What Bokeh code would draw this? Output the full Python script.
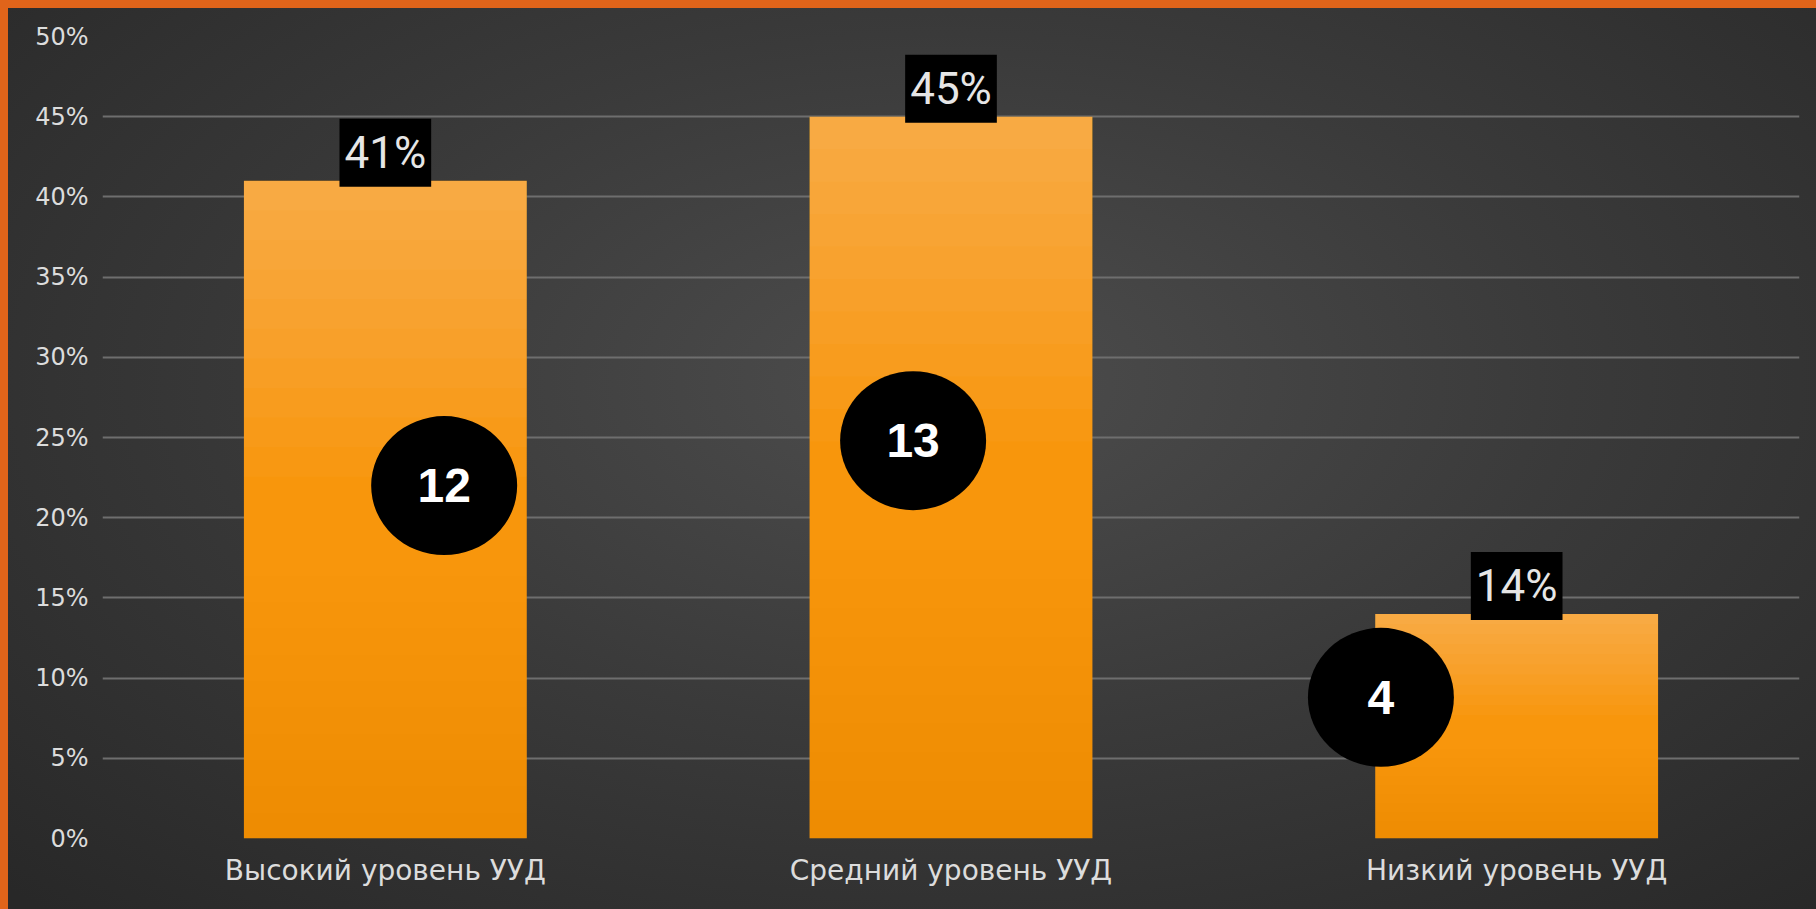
from bokeh.plotting import figure
from bokeh.models import Range1d, FixedTicker, Label, FactorRange
from bokeh.core.properties import value
from bokeh.embed import file_html
from bokeh.resources import INLINE

# ---- data ----
categories = ["Высокий уровень УУД", "Средний уровень УУД", "Низкий уровень УУД"]
percents = [41, 45, 14]
counts = ["12", "13", "4"]
y_ticks = [0, 5, 10, 15, 20, 25, 30, 35, 40, 45, 50]
y_tick_labels = ["0%", "5%", "10%", "15%", "20%", "25%", "30%", "35%", "40%", "45%", "50%"]

# badge (black circle) placement, in category units / percent units
badge_x_shift = [0.104, -0.067, -0.24]
badge_y = [22.0, 24.8, 8.8]

p = figure(
    width=1816, height=909,
    x_range=FactorRange(factors=categories),
    y_range=Range1d(0, 50),
    output_backend="svg", toolbar_location=None,
    min_border_left=102, min_border_right=17, min_border_top=36, min_border_bottom=71,
)
p.background_fill_alpha = 0
p.border_fill_alpha = 0
p.outline_line_color = None
p.styles = {
    "background": "radial-gradient(ellipse 72% 80% at 52% 42%, #4d4d4d 0%, #3a3a3a 48%, #282828 100%)",
    "box-shadow": "inset 8px 8px 0 0 #E0641A",
}

# grid
p.xgrid.grid_line_color = None
p.ygrid.ticker = FixedTicker(ticks=y_ticks[1:])
p.ygrid.grid_line_color = "#6e6e6e"
p.ygrid.grid_line_width = 2

# axes
p.yaxis.ticker = FixedTicker(ticks=y_ticks)
p.yaxis.major_label_overrides = {t: l for t, l in zip(y_ticks, y_tick_labels)}
for ax in (p.xaxis[0], p.yaxis[0]):
    ax.axis_line_color = None
    ax.major_tick_line_color = None
    ax.minor_tick_line_color = None
    ax.major_tick_out = 0
    ax.major_tick_in = 0
    ax.major_label_text_color = "#dcdcdc"
    ax.major_label_text_font = "DejaVu Sans"
p.yaxis.major_label_text_font_size = "24px"
p.yaxis.major_label_standoff = 14
p.xaxis.major_label_text_font_size = "28px"
p.xaxis.major_label_standoff = 15

# bars
p.vbar(x=categories, top=percents, width=0.5, fill_color="#F8960C", line_color=None)
N = 10
for k in range(N):
    frac_top = 0.45 * (k + 1) / N
    p.vbar(x=categories, top=percents, bottom=[v * (1 - frac_top) for v in percents],
           width=0.5, fill_color="white", fill_alpha=0.028, line_color=None)
    frac_bot = 0.4 * (k + 1) / N
    p.vbar(x=categories, top=[v * frac_bot for v in percents], bottom=0,
           width=0.5, fill_color="black", fill_alpha=0.004, line_color=None)

# value labels in black boxes
for i, v in enumerate(percents):
    p.add_layout(Label(
        x=i + 0.5, y=v, text=f"{v}%", y_offset=28,
        text_align="center", text_baseline="middle",
        text_font="Roboto", text_font_size="44px", text_color="#e6e6e6",
        background_fill_color="black", background_fill_alpha=1.0,
        padding=dict(left=5, right=5, top=8, bottom=8),
    ))

# black badges with counts
bx = [i + 0.5 + s for i, s in enumerate(badge_x_shift)]
p.ellipse(x=bx, y=badge_y, width=146, height=139, width_units="screen", height_units="screen",
          fill_color="black", line_color=None)
p.text(x=bx, y=badge_y, text=counts, text_align="center", text_baseline="middle",
       text_font=value("Liberation Sans"), text_font_style="bold", text_font_size="48px",
       text_color="white")

open("out.html", "w").write(file_html(p, INLINE))
